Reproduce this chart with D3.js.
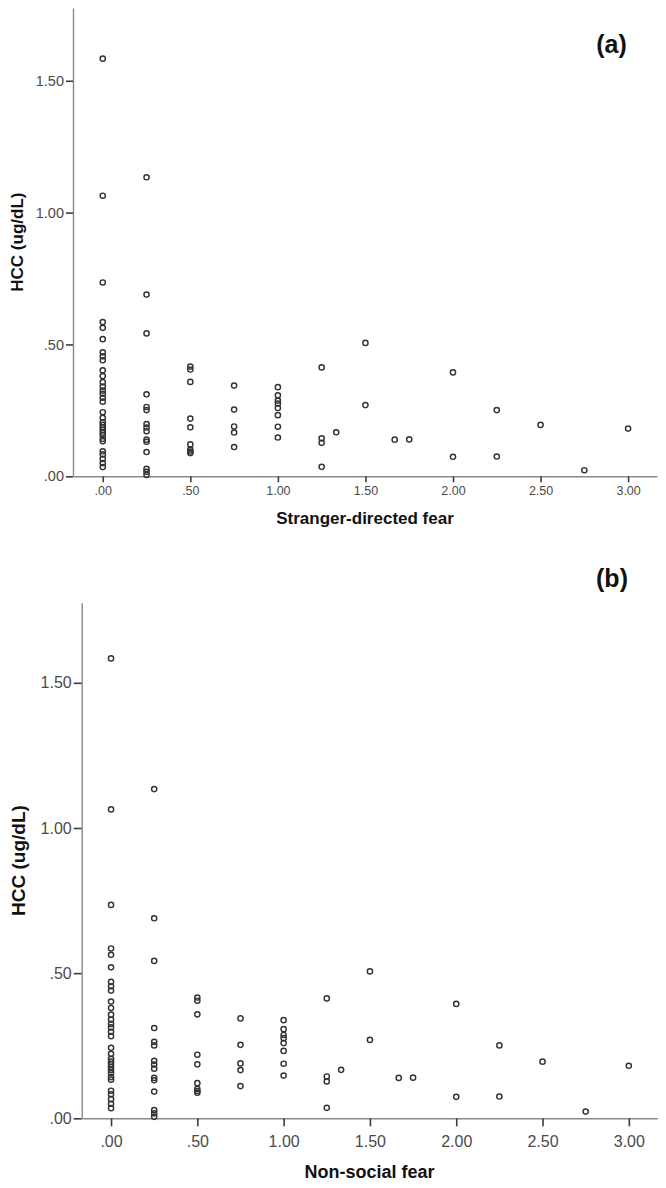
<!DOCTYPE html>
<html><head><meta charset="utf-8">
<script src="https://cdn.jsdelivr.net/npm/d3@7"></script>
<style>
body{margin:0;background:#fff}
svg{display:block}
text{font-family:"Liberation Sans",Arial,sans-serif}
</style>
</head><body><svg id="c" width="666" height="1188"></svg>
<script>
// Fear score (x) and hair cortisol concentration (y) for each dog
const fearScore = [
  0,0,0,0,0,0,0,0,0,0,0,0,0,0,0,0,0,0,0,0,0,0,0,0,0,0,0,0,0,0,0,0,
  0.25,0.25,0.25,0.25,0.25,0.25,0.25,0.25,0.25,0.25,0.25,0.25,0.25,0.25,0.25,
  0.5,0.5,0.5,0.5,0.5,0.5,0.5,0.5,0.5,
  0.75,0.75,0.75,0.75,0.75,
  1,1,1,1,1,1,1,1,
  1.25,1.25,1.25,1.25,
  1.333,
  1.5,1.5,
  1.667,
  1.75,
  2,2,
  2.25,2.25,
  2.5,
  2.75,
  3
];
const hccValue = [
  1.584,1.064,0.735,0.585,0.563,0.520,0.470,0.455,0.440,0.402,0.380,0.357,0.340,0.325,0.313,0.298,
  0.283,0.243,0.222,0.205,0.195,0.186,0.176,0.166,0.156,0.142,0.133,0.095,0.083,0.066,0.050,0.035,
  1.134,0.689,0.542,0.311,0.263,0.251,0.198,0.185,0.171,0.139,0.131,0.092,0.028,0.017,0.005,
  0.416,0.405,0.358,0.219,0.186,0.121,0.101,0.094,0.088,
  0.344,0.253,0.189,0.166,0.111,
  0.338,0.307,0.287,0.276,0.259,0.232,0.188,0.147,
  0.413,0.144,0.127,0.036,
  0.167,
  0.506,0.270,
  0.139,
  0.140,
  0.394,0.074,
  0.251,0.075,
  0.195,
  0.023,
  0.181
];
const xTickValues = [0,0.5,1,1.5,2,2.5,3];
const xTickLabels = [".00",".50","1.00","1.50","2.00","2.50","3.00"];
const yTickValues = [0,0.5,1,1.5];
const yTickLabels = [".00",".50","1.00","1.50"];
const panelLabels = ["(a)","(b)"];
const xTitles = ["Stranger-directed fear","Non-social fear"];
const yTitle = "HCC (ug/dL)";
const xDomain = [-0.17, 3.165];
const yDomain = [0, 1.776];

const layouts = [
  {left:73, right:657, top:8, bottom:476.3,
   xTick:{size:6,pad:4,font:12.5}, yTick:{size:7,pad:2,font:14.5},
   xTitleY:524, xTitleFont:17, yTitleX:17.5, yTitleFont:17,
   labelX:611.5, labelY:53, labelFont:25},
  {left:81.7, right:657.3, top:602.7, bottom:1118.3,
   xTick:{size:8,pad:9,font:16}, yTick:{size:8,pad:2,font:16},
   xTitleY:1177.7, xTitleFont:18, yTitleX:18, yTitleFont:19,
   labelX:612, labelY:587, labelFont:25}
];

const svg = d3.select("#c");
svg.append("rect").attr("width",666).attr("height",1188).attr("fill","#fff");

const points = fearScore.map((x,i)=>({x, y:hccValue[i]}));

layouts.forEach((L, p) => {
  const x = d3.scaleLinear().domain(xDomain).range([L.left, L.right]);
  const y = d3.scaleLinear().domain(yDomain).range([L.bottom, L.top]);
  const g = svg.append("g");

  const xAxis = d3.axisBottom(x).tickValues(xTickValues)
    .tickFormat((d,i)=>xTickLabels[i]).tickSizeOuter(0)
    .tickSizeInner(L.xTick.size).tickPadding(L.xTick.pad);
  const yAxis = d3.axisLeft(y).tickValues(yTickValues)
    .tickFormat((d,i)=>yTickLabels[i]).tickSizeOuter(0)
    .tickSizeInner(L.yTick.size).tickPadding(L.yTick.pad);

  const gx = g.append("g").attr("transform",`translate(0,${L.bottom})`).call(xAxis);
  const gy = g.append("g").attr("transform",`translate(${L.left},0)`).call(yAxis);

  [gx, gy].forEach(a => {
    a.select(".domain").attr("stroke","#8a8a8a").attr("stroke-width",1.4);
    a.selectAll(".tick line").attr("stroke","#3c3c3c").attr("stroke-width",1.6);
    a.selectAll(".tick text").attr("fill","#4a4a4a")
      .attr("font-family","'Liberation Sans',Arial,sans-serif");
  });
  gx.selectAll(".tick text").attr("font-size", L.xTick.font);
  gy.selectAll(".tick text").attr("font-size", L.yTick.font);

  g.append("g").selectAll("circle").data(points).join("circle")
    .attr("cx", d=>x(d.x)).attr("cy", d=>y(d.y)).attr("r", 2.6)
    .attr("fill","none").attr("stroke","#333").attr("stroke-width",1.45);

  g.append("text").attr("x",(L.left+L.right)/2).attr("y",L.xTitleY)
    .attr("text-anchor","middle").attr("font-weight","bold")
    .attr("font-size",L.xTitleFont).attr("fill","#111").text(xTitles[p]);

  g.append("text")
    .attr("transform",`translate(${L.yTitleX},${(L.top+L.bottom)/2}) rotate(-90)`)
    .attr("dy","0.35em").attr("text-anchor","middle").attr("font-weight","bold")
    .attr("font-size",L.yTitleFont).attr("fill","#111").text(yTitle);

  g.append("text").attr("x",L.labelX).attr("y",L.labelY)
    .attr("text-anchor","middle").attr("font-weight","bold")
    .attr("font-size",L.labelFont).attr("fill","#111").text(panelLabels[p]);
});
</script>
</body></html>
